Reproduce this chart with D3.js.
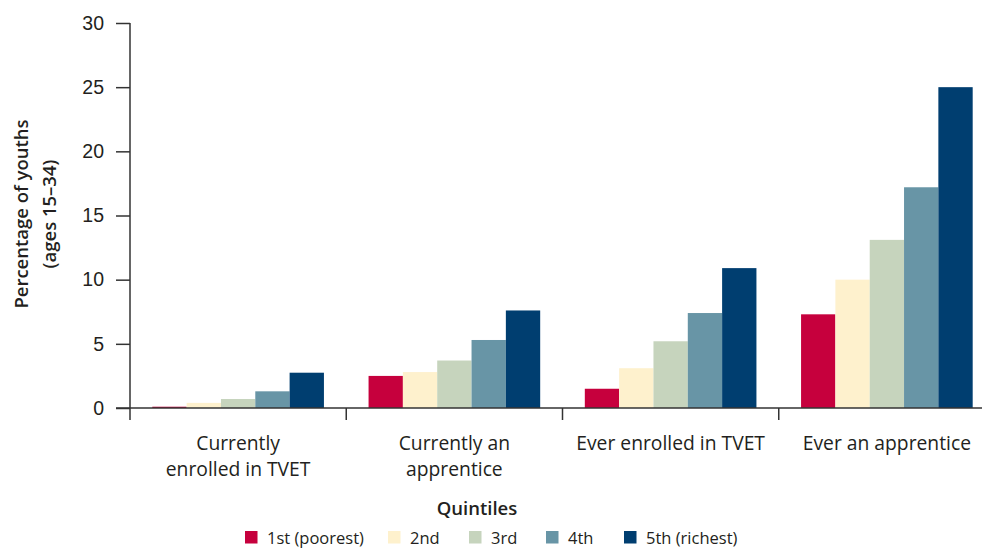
<!DOCTYPE html>
<html>
<head>
<meta charset="utf-8">
<script src="https://cdn.jsdelivr.net/npm/d3@7"></script>
<style>
  body { margin: 0; background: #fff; }
  svg { display: block; font-family: "Open Sans", "Noto Sans", sans-serif; }
</style>
</head>
<body>
<script>
const width = 982;
const height = 548;

// categories along the x axis (label lines)
const categories = [
  ["Currently", "enrolled in TVET"],
  ["Currently an", "apprentice"],
  ["Ever enrolled in TVET"],
  ["Ever an apprentice"]
];
// quintile series
const quintiles = ["1st (poorest)", "2nd", "3rd", "4th", "5th (richest)"];
const colors = ["#c6003d", "#fef1cd", "#c6d4bd", "#6895a6", "#003e70"];
// values, one array per category, in quintile order
const currentlyTvet = [0.1, 0.4, 0.7, 1.3, 2.75];
const currentlyApprentice = [2.5, 2.8, 3.7, 5.3, 7.6];
const everTvet = [1.5, 3.1, 5.2, 7.4, 10.9];
const everApprentice = [7.3, 10.0, 13.1, 17.2, 25.0];
const values = [currentlyTvet, currentlyApprentice, everTvet, everApprentice];
const yTicks = [0, 5, 10, 15, 20, 25, 30];

let svg = d3.select("body").append("svg").attr("width", width).attr("height", height);

// scales
let y = d3.scaleLinear().domain([0, 30]).range([408, 23]);
let x0 = d3.scaleBand().domain(d3.range(categories.length)).range([130, 995]).padding(0);
let x1 = d3.scaleBand().domain(d3.range(quintiles.length)).range([0, x0.bandwidth()])
    .paddingInner(0).paddingOuter(0.65);

const textColor = "#231f20";
const axisColor = "#333";

// bars
let groups = svg.append("g").selectAll("g")
    .data(values)
    .enter()
    .append("g")
    .attr("transform", (d, i) => `translate(${x0(i)},0)`);

groups.selectAll("rect")
    .data(d => d)
    .enter()
    .append("rect")
    .attr("x", (d, i) => x1(i))
    .attr("y", d => y(d))
    .attr("width", x1.bandwidth())
    .attr("height", d => y(0) - y(d))
    .attr("fill", (d, i) => colors[i]);

// y axis
let yAxis = svg.append("g")
    .attr("transform", "translate(130,0)")
    .call(d3.axisLeft(y).tickValues(yTicks).tickSize(14).tickPadding(12));
yAxis.select(".domain").remove();
yAxis.selectAll(".tick line").attr("stroke", axisColor).attr("stroke-width", 1.5);
yAxis.selectAll(".tick text")
    .attr("fill", textColor)
    .style("font-size", "19.5px");

svg.append("line")
    .attr("x1", 130).attr("x2", 130)
    .attr("y1", y(30)).attr("y2", 420)
    .attr("stroke", axisColor).attr("stroke-width", 1.5);

// x axis line and group separators
svg.append("line")
    .attr("x1", 116).attr("x2", width)
    .attr("y1", y(0)).attr("y2", y(0))
    .attr("stroke", axisColor).attr("stroke-width", 1.5);

svg.append("g").selectAll("line")
    .data(d3.range(1, categories.length))
    .enter()
    .append("line")
    .attr("x1", d => x0(d)).attr("x2", d => x0(d))
    .attr("y1", y(0)).attr("y2", 420)
    .attr("stroke", axisColor).attr("stroke-width", 1.5);

// category labels
let catLabels = svg.append("g").selectAll("text")
    .data(categories)
    .enter()
    .append("text")
    .attr("text-anchor", "middle")
    .attr("fill", textColor)
    .style("font-size", "19.3px");

catLabels.selectAll("tspan")
    .data((d, i) => d.map(line => ({line: line, i: i})))
    .enter()
    .append("tspan")
    .attr("x", d => x0(d.i) + x0.bandwidth() / 2)
    .attr("y", (d, j) => 450 + j * 26)
    .text(d => d.line);

// y axis title
let yTitle = svg.append("text")
    .attr("transform", "translate(0,214) rotate(-90)")
    .attr("text-anchor", "middle")
    .attr("fill", textColor)
    .style("font-size", "18.5px")
    .style("font-weight", "600");
yTitle.append("tspan").attr("x", 0).attr("y", 28).text("Percentage of youths");
yTitle.append("tspan").attr("x", 0).attr("y", 56).text("(ages 15–34)");

// legend
svg.append("text")
    .attr("x", 477)
    .attr("y", 515)
    .attr("text-anchor", "middle")
    .attr("fill", textColor)
    .style("font-size", "18.5px")
    .style("font-weight", "600")
    .text("Quintiles");

const legendX = [245, 388, 469, 546, 624];
let legend = svg.append("g").selectAll("g")
    .data(quintiles)
    .enter()
    .append("g")
    .attr("transform", (d, i) => `translate(${legendX[i]},531)`);

legend.append("rect")
    .attr("width", 12.5)
    .attr("height", 12.5)
    .attr("fill", (d, i) => colors[i]);

legend.append("text")
    .attr("x", 22)
    .attr("y", 13)
    .attr("fill", textColor)
    .style("font-size", "16.5px")
    .text(d => d);
</script>
</body>
</html>
